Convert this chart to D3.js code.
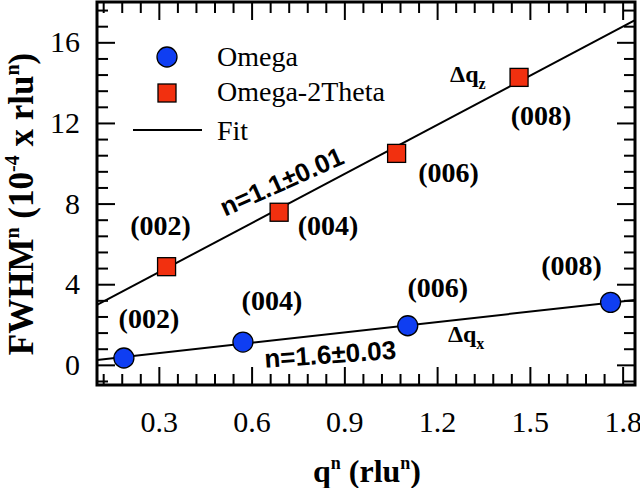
<!DOCTYPE html>
<html><head><meta charset="utf-8">
<script src="https://cdn.jsdelivr.net/npm/d3@7"></script>
<style>
body{margin:0;background:#fff;}
svg{display:block;}
</style>
</head><body>
<svg id="chart" width="640" height="488"></svg>
<script>
// ---- data ----
const reflections = ["(002)", "(004)", "(006)", "(008)"];
const qOmega = [0.187, 0.572, 1.105, 1.761];
const fwhmOmega = [0.34, 1.13, 1.94, 3.10];
const qO2T = [0.325, 0.689, 1.069, 1.465];
const fwhmO2T = [4.87, 7.57, 10.49, 14.26];
const fitQ = [0.1, 1.84];
const fitOmega = [0.24, 3.22];
const fitO2T = [2.97, 17.1];
const xTicks = [0.3, 0.6, 0.9, 1.2, 1.5, 1.8];
const yTicks = [0, 4, 8, 12, 16];
const legendLabels = ["Omega", "Omega-2Theta", "Fit"];

// ---- layout ----
const L = 97, R = 635, T = 2, B = 385;
const svg = d3.select("#chart");
const x = d3.scaleLinear().domain([0.1, 1.84]).range([L, R]);
const y = d3.scaleLinear().domain([-1, 18]).range([B, T]);
const serif = "'Liberation Serif','Times New Roman',serif";
const sans = "'Liberation Sans',Arial,sans-serif";
const blue = "#0f3ef2", red = "#f2300f";

const xMinor = d3.range(0.12, 1.84, 0.06).filter(v => !xTicks.some(t => Math.abs(t - v) < 1e-6));
const yMinor = d3.range(-0.8, 18, 0.8).filter(v => !yTicks.some(t => Math.abs(t - v) < 1e-6));

function styleAxis(g) {
  g.select(".domain").remove();
  g.selectAll("line").attr("stroke", "#000").attr("stroke-width", 2);
  g.selectAll("text").attr("font-family", serif).attr("font-size", 30).attr("fill", "#000");
}
const MAJ = 18, MIN = 11;
// bottom
svg.append("g").attr("transform", `translate(0,${B})`)
  .call(d3.axisBottom(x).tickValues(xTicks).tickFormat(d3.format(".1f")).tickSize(-MAJ).tickPadding(26)).call(styleAxis);
svg.append("g").attr("transform", `translate(0,${B})`)
  .call(d3.axisBottom(x).tickValues(xMinor).tickFormat("").tickSize(-MIN)).call(styleAxis);
// top
svg.append("g").attr("transform", `translate(0,${T})`)
  .call(d3.axisTop(x).tickValues(xTicks).tickFormat("").tickSize(-MAJ)).call(styleAxis);
svg.append("g").attr("transform", `translate(0,${T})`)
  .call(d3.axisTop(x).tickValues(xMinor).tickFormat("").tickSize(-MIN)).call(styleAxis);
// left
svg.append("g").attr("transform", `translate(${L},0)`)
  .call(d3.axisLeft(y).tickValues(yTicks).tickFormat(d3.format("d")).tickSize(-MAJ).tickPadding(17)).call(styleAxis);
svg.append("g").attr("transform", `translate(${L},0)`)
  .call(d3.axisLeft(y).tickValues(yMinor).tickFormat("").tickSize(-MIN)).call(styleAxis);
// right
svg.append("g").attr("transform", `translate(${R},0)`)
  .call(d3.axisRight(y).tickValues(yTicks).tickFormat("").tickSize(-MAJ)).call(styleAxis);
svg.append("g").attr("transform", `translate(${R},0)`)
  .call(d3.axisRight(y).tickValues(yMinor).tickFormat("").tickSize(-MIN)).call(styleAxis);
// remove empty minor labels
svg.selectAll("text").filter(function () { return this.textContent === ""; }).remove();

// frame
svg.append("rect").attr("x", L).attr("y", T).attr("width", R - L).attr("height", B - T)
  .attr("fill", "none").attr("stroke", "#000").attr("stroke-width", 3);

// fit lines
const line = d3.line().x(d => x(d[0])).y(d => y(d[1]));
svg.append("clipPath").attr("id", "clip").append("rect")
  .attr("x", L).attr("y", T).attr("width", R - L).attr("height", B - T);
[fitOmega, fitO2T].forEach(f => {
  svg.append("path").datum(fitQ.map((q, i) => [q, f[i]]))
    .attr("d", line).attr("fill", "none").attr("stroke", "#000").attr("stroke-width", 2)
    .attr("clip-path", "url(#clip)");
});

// points
svg.append("g").selectAll("circle").data(qOmega).join("circle")
  .attr("cx", d => x(d)).attr("cy", (d, i) => y(fwhmOmega[i])).attr("r", 10)
  .attr("fill", blue).attr("stroke", "#000").attr("stroke-width", 1.3);
const S = 18;
svg.append("g").selectAll("rect").data(qO2T).join("rect")
  .attr("x", d => x(d) - S / 2).attr("y", (d, i) => y(fwhmO2T[i]) - S / 2)
  .attr("width", S).attr("height", S)
  .attr("fill", red).attr("stroke", "#000").attr("stroke-width", 1.3);

// reflection labels
const offOmega = [[25, -30], [29, -32], [30, -29], [-39, -27]];
const offO2T = [[-6, -32], [49, 23], [52, 29], [22, 48]];
function refl(qs, vs, offs) {
  svg.append("g").selectAll("text").data(qs).join("text")
    .attr("x", (d, i) => x(d) + offs[i][0]).attr("y", (d, i) => y(vs[i]) + offs[i][1])
    .attr("text-anchor", "middle").attr("font-family", serif).attr("font-weight", "bold")
    .attr("font-size", 28).text((d, i) => reflections[i]);
}
refl(qOmega, fwhmOmega, offOmega);
refl(qO2T, fwhmO2T, offO2T);

// delta q labels
function dq(qv, yv, sub) {
  const t = svg.append("text").attr("x", x(qv)).attr("y", y(yv))
    .attr("font-family", serif).attr("font-weight", "bold").attr("font-size", 24);
  t.append("tspan").text("\u0394q");
  t.append("tspan").attr("font-size", 16).attr("dy", 7).text(sub);
}
dq(1.242, 14.03, "z");
dq(1.235, 1.13, "x");

// n annotations
function nAnn(qv, yv, ang, txt) {
  svg.append("text").attr("transform", `translate(${x(qv)},${y(yv)}) rotate(${ang})`)
    .attr("font-family", sans).attr("font-weight", "bold").attr("font-size", 26).text(txt);
}
nAnn(0.514, 7.35, -24, "n=1.1\u00b10.01");
nAnn(0.643, -0.15, -4, "n=1.6\u00b10.03");

// legend
const lg = svg.append("g");
lg.append("circle").attr("cx", 167).attr("cy", 57).attr("r", 10).attr("fill", blue).attr("stroke", "#000").attr("stroke-width", 1.3);
lg.append("rect").attr("x", 167 - S / 2).attr("y", 93 - S / 2).attr("width", S).attr("height", S).attr("fill", red).attr("stroke", "#000").attr("stroke-width", 1.3);
lg.append("line").attr("x1", 133).attr("x2", 202).attr("y1", 130).attr("y2", 130).attr("stroke", "#000").attr("stroke-width", 2);
lg.selectAll("text").data(legendLabels).join("text")
  .attr("x", 217).attr("y", (d, i) => [66, 101, 140][i])
  .attr("font-family", serif).attr("font-size", 28).text(d => d);

// axis titles (superscripts via dy, restored on the next run)
function rich(textSel, parts, supSize) {
  let pending = 0;
  parts.forEach(p => {
    if (p.sup) {
      textSel.append("tspan").attr("font-size", supSize).attr("dy", -p.up).text(p.t);
      pending = p.up;
    } else {
      const ts = textSel.append("tspan").text(p.t);
      if (pending) { ts.attr("dy", pending); pending = 0; }
    }
  });
}
const xt = svg.append("text").attr("x", 367).attr("y", 482).attr("text-anchor", "middle")
  .attr("font-family", serif).attr("font-weight", "bold").attr("font-size", 32);
rich(xt, [{t: "q"}, {t: "n", sup: true, up: 13}, {t: " (rlu"}, {t: "n", sup: true, up: 13}, {t: ")"}], 18);

const yt = svg.append("text").attr("transform", "translate(33,204) rotate(-90)").attr("text-anchor", "middle")
  .attr("font-family", serif).attr("font-weight", "bold").attr("font-size", 35);
rich(yt, [{t: "FWHM"}, {t: "n", sup: true, up: 14}, {t: " (10"}, {t: "-4", sup: true, up: 14}, {t: " x rlu"}, {t: "n", sup: true, up: 14}, {t: ")"}], 20);
</script>
</body></html>
